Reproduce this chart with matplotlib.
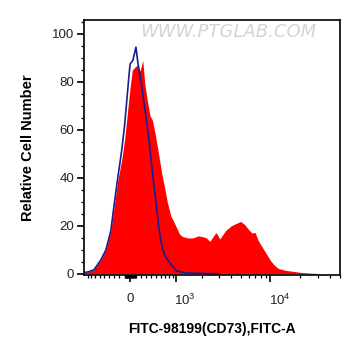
import numpy as np
import matplotlib
matplotlib.use("Agg")
import matplotlib.pyplot as plt
import matplotlib.transforms as mtrans

plt.rcParams['font.family'] = ['Liberation Sans', 'DejaVu Sans']
plt.rcParams['mathtext.fontset'] = 'custom'
plt.rcParams['mathtext.rm'] = 'Liberation Sans'
plt.rcParams['mathtext.it'] = 'Liberation Sans:italic'

# stained sample (red, filled), fluorescence intensity vs relative count
red_x = [-1000, -880, -730, -570, -460, -360, -300, -233, -200, -150, -100, -50, 0,
         40, 80, 130, 180, 230, 270, 320, 370, 420, 470, 550, 620, 700, 760, 850,
         950, 1100, 1200, 1400, 1600, 1800, 2000, 2200, 2400, 2700, 2800, 3050,
         3300, 3500, 4000, 4500, 5000, 5500, 6000, 6500, 7000, 7500, 8000, 9000,
         10000, 11000, 12000, 14000, 17000, 20000, 25000, 32000, 34000]
red_y = [0.5, 0.8, 1.7, 5.8, 10, 18, 27, 38, 42, 48, 56, 67, 78,
         85, 86, 87, 84.5, 89, 79, 72, 66, 64, 59, 50, 42, 35, 29.5, 24,
         21, 16.5, 15.5, 14.9, 15, 15.8, 15.5, 15, 13.5, 16.5, 17.2, 14.5,
         16.5, 18, 20, 21, 21.8, 20.5, 18.5, 17, 17.2, 14, 12, 8.6,
         5.5, 3.5, 2.2, 1.5, 1.0, 0.6, 0.3, 0.1, 0]

# isotype control (blue outline)
blue_x = [-1000, -880, -730, -570, -460, -360, -300, -233, -200, -150, -100, -50,
          -20, 0, 50, 105, 140, 200, 250, 300, 350, 400, 450, 500, 550, 600, 650,
          700, 800, 900, 1000, 1200, 1500, 2500, 3000]
blue_y = [0.5, 0.8, 1.7, 5.8, 10, 18, 28, 39, 44, 52, 62, 75,
          83, 87.5, 89, 94.5, 88, 80, 72, 64, 56, 46, 37, 29, 20, 14, 10,
          7.5, 5, 3, 1.3, 0.6, 0.3, 0.1, 0]

x_major = [0, 1000, 10000]
x_major_labels = ['0', '$10^3$', '$10^4$']
x_minor = ([-n * 100 for n in range(1, 10)] + [-n * 10 for n in range(1, 10)]
           + [n * 10 for n in range(1, 10)] + [n * 100 for n in range(1, 10)]
           + [n * 1000 for n in range(2, 10)] + [n * 10000 for n in range(2, 6)])
y_major = [0, 20, 40, 60, 80, 100]
y_minor = [5, 10, 15, 25, 30, 35, 45, 50, 55, 65, 70, 75, 85, 90, 95, 105]


def fwd(x):
    return np.arcsinh(np.asarray(x, dtype=float) / 780.0)


def inv(y):
    return 780.0 * np.sinh(np.asarray(y, dtype=float))


fig = plt.figure(figsize=(3.61, 3.56), dpi=100)
ax = fig.add_axes([84 / 361, 1 - 275 / 356, 256 / 361, 255 / 356])
ax.set_xscale('function', functions=(fwd, inv))

ax.fill_between(red_x, red_y, 0, color='#ff0000', lw=0)
ax.plot(blue_x, blue_y, color='#1c1c8e', lw=1.2)

ax.set_xlim(-1000, 50000)
ax.set_ylim(-0.5, 105.8)

ax.set_xticks(x_major)
ax.set_xticklabels(x_major_labels)
ax.set_xticks(x_minor, minor=True)
ax.set_yticks(y_major)
ax.set_yticks(y_minor, minor=True)

ax.tick_params(axis='both', which='major', direction='out', length=5, width=1.2,
               labelsize=9.5, labelcolor='#222222')
ax.tick_params(axis='both', which='minor', direction='out', length=2.5, width=0.9)
ax.tick_params(axis='x', which='major', pad=8)
ax.tick_params(axis='y', which='major', pad=2)

# FlowJo style: power labels start at the tick
for lab in ax.get_xticklabels()[1:]:
    lab.set_transform(lab.get_transform()
                      + mtrans.ScaledTranslation(9 / 100, 0, fig.dpi_scale_trans))

for sp in ax.spines.values():
    sp.set_linewidth(1.2)

ax.set_ylabel('Relative Cell Number', fontsize=10.5, fontweight='bold', labelpad=12)
ax.set_xlabel('FITC-98199(CD73),FITC-A', fontsize=10, fontweight='bold', labelpad=10)

ax.text(0.565, 0.953, 'WWW.PTGLAB.COM', transform=ax.transAxes, ha='center',
        va='center', fontsize=13, color='#d4d4d4', style='italic',
        family='DejaVu Sans')

fig.savefig('out.png', dpi=100)
